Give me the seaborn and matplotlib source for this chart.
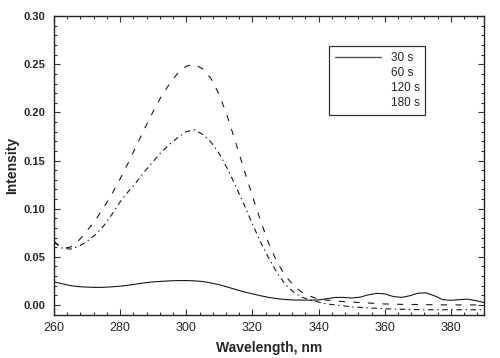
import matplotlib
matplotlib.use("Agg")
import matplotlib.pyplot as plt
import seaborn as sns
import numpy as np
import pandas as pd
from matplotlib.lines import Line2D
from matplotlib.ticker import MultipleLocator

wavelength = [260, 262.5, 265, 267.5, 270, 272.5, 275, 277.5, 280, 282.5,
              285, 287.5, 290, 292.5, 295, 297.5, 300, 302.5, 305, 307.5,
              310, 312.5, 315, 317.5, 320, 322.5, 325, 327.5, 330, 332.5,
              335, 337.5, 340, 342.5, 345, 347.5, 350, 352.5, 355, 357.5,
              360, 362.5, 365, 367.5, 370, 372.5, 375, 377.5, 380, 382.5,
              385, 387.5, 390]

s30 = [0.024, 0.022, 0.020, 0.019, 0.0185, 0.0182, 0.0183, 0.0188, 0.0195, 0.0205,
       0.0218, 0.023, 0.024, 0.0245, 0.025, 0.0253, 0.0253, 0.025, 0.0243, 0.0228,
       0.021, 0.0185, 0.016, 0.0135, 0.0115, 0.0095, 0.0078, 0.0065, 0.0056, 0.0051,
       0.005, 0.005, 0.0052, 0.0065, 0.0078, 0.0078, 0.0072, 0.008, 0.0105, 0.012,
       0.0115, 0.0088, 0.0078, 0.0095, 0.0122, 0.0125, 0.0095, 0.0055, 0.0048, 0.0055,
       0.006, 0.0045, 0.0025]

s60 = [0.065, 0.059, 0.058, 0.061, 0.066, 0.073, 0.082, 0.094, 0.107, 0.118,
       0.128, 0.139, 0.149, 0.159, 0.167, 0.174, 0.180, 0.182, 0.177, 0.169,
       0.157, 0.141, 0.123, 0.104, 0.084, 0.065, 0.048, 0.033, 0.021, 0.013,
       0.008, 0.005, 0.003, 0.001, 0.0, -0.001, -0.002, -0.0025, -0.003, -0.0035,
       -0.004, -0.0043, -0.0045, -0.0047, -0.0048, -0.005, -0.005, -0.005, -0.005, -0.005,
       -0.005, -0.005, -0.005]

s120 = [0.066, 0.059, 0.060, 0.067, 0.077, 0.088, 0.101, 0.115, 0.131, 0.148,
        0.166, 0.184, 0.201, 0.217, 0.230, 0.241, 0.248, 0.250, 0.245, 0.235,
        0.218, 0.195, 0.168, 0.140, 0.113, 0.087, 0.063, 0.044, 0.030, 0.020,
        0.013, 0.009, 0.006, 0.005, 0.004, 0.0035, 0.003, 0.0025, 0.002, 0.0015,
        0.001, 0.0008, 0.0006, 0.0005, 0.0004, 0.0003, 0.0002, 0.0001, 0.0, 0.0,
        0.0, 0.0, 0.0]

legend_labels = ["30 s", "60 s", "120 s", "180 s"]
x_ticks = [260, 280, 300, 320, 340, 360, 380]
y_ticks = [0.00, 0.05, 0.10, 0.15, 0.20, 0.25, 0.30]

sns.set_style("ticks")
plt.rcParams['font.family'] = ['Liberation Sans', 'DejaVu Sans']
plt.rcParams['lines.scale_dashes'] = False

fig = plt.figure(figsize=(5.0, 3.58), dpi=100)
ax = fig.add_axes([0.108, 0.120, 0.860, 0.835])

line_col = "#1a1a1a"
sns.lineplot(x=wavelength, y=s30, ax=ax, color=line_col, linewidth=0.8,
             linestyle="-")
sns.lineplot(x=wavelength, y=s60, ax=ax, color=line_col, linewidth=0.8,
             linestyle=(0, (4.0, 2.6, 1.0, 2.6)))
sns.lineplot(x=wavelength, y=s120, ax=ax, color=line_col, linewidth=0.8,
             linestyle=(0, (4.5, 6.0)))

ax.set_xlim(260, 390)
ax.set_ylim(-0.0105, 0.30)
ax.set_xticks(x_ticks)
ax.set_yticks(y_ticks)
ax.set_yticklabels([f"{v:.2f}" for v in y_ticks], fontweight="bold")
ax.xaxis.set_minor_locator(MultipleLocator(4))
ax.yaxis.set_minor_locator(MultipleLocator(0.01))
ax.tick_params(which="both", direction="in", top=True, right=True,
               color="#333333", width=0.8)
ax.tick_params(which="major", length=4)
ax.tick_params(which="minor", length=2)
ax.tick_params(axis="x", labelsize=9, pad=5)
ax.tick_params(axis="y", labelsize=8, pad=6)
for sp in ax.spines.values():
    sp.set_visible(True)
    sp.set_linewidth(1.0)
    sp.set_color("#222222")

ax.set_xlabel("Wavelength, nm", fontsize=10, fontweight="bold", labelpad=5)
ax.set_ylabel("Intensity", fontsize=10, fontweight="bold", labelpad=3)

handles = [Line2D([], [], color="#555555", linewidth=1.0),
           Line2D([], [], color="none"),
           Line2D([], [], color="none"),
           Line2D([], [], color="none")]
leg = ax.legend(handles, legend_labels, loc="upper left",
                bbox_to_anchor=(0.64, 0.90), fontsize=8.5, frameon=True,
                fancybox=False, edgecolor="#333333", framealpha=1,
                handlelength=3.9, labelspacing=0.25, borderpad=0.5,
                handletextpad=0.8, borderaxespad=0)
leg.get_frame().set_linewidth(0.9)

fig.savefig("out.png", dpi=100)
